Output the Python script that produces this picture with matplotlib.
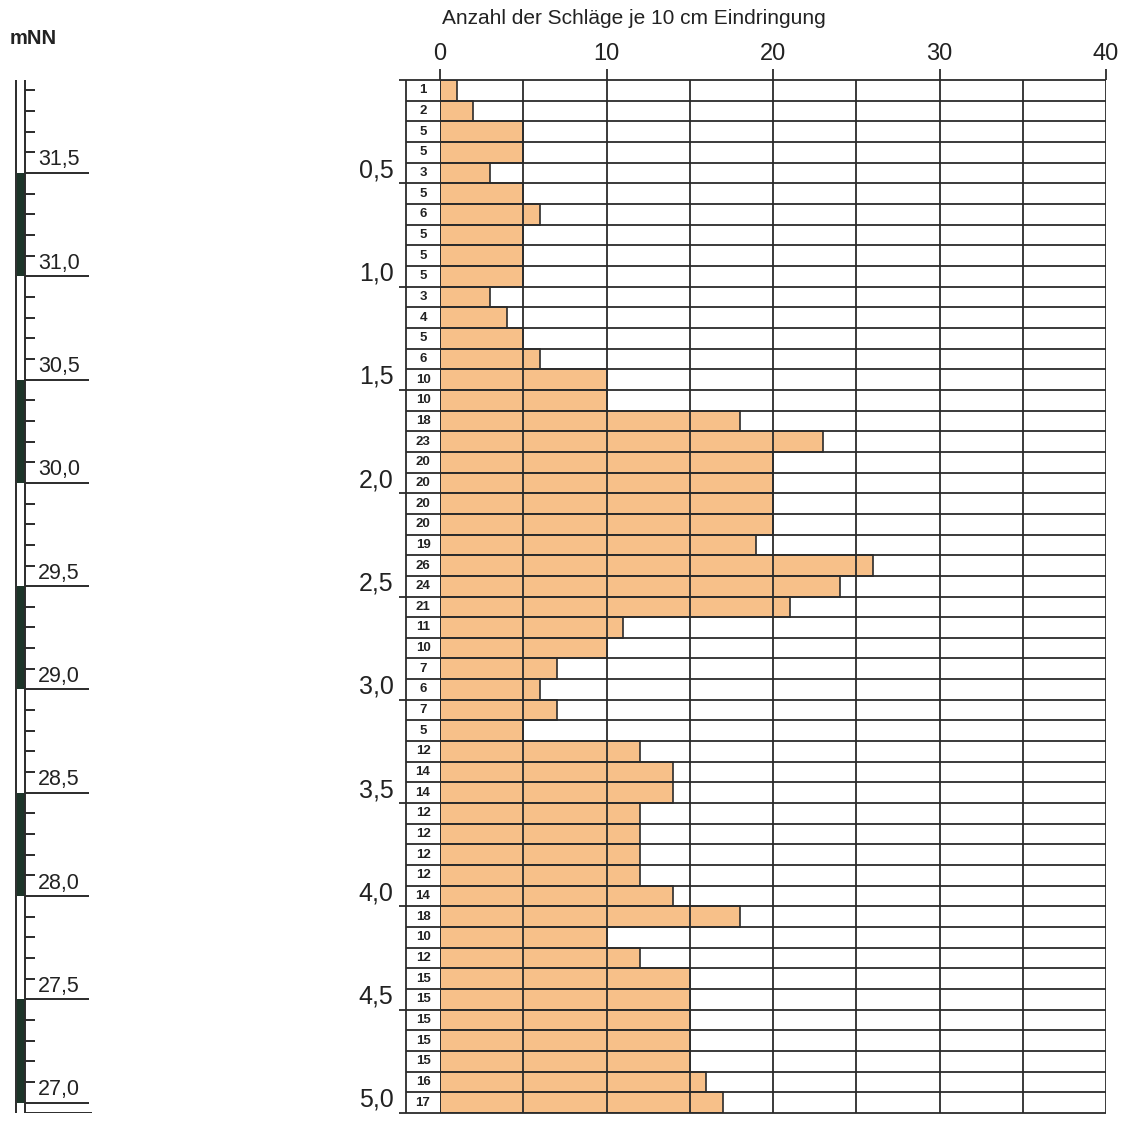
import numpy as np
import matplotlib
matplotlib.use("Agg")
import matplotlib.pyplot as plt

plt.rcParams['font.family'] = ['Liberation Sans', 'DejaVu Sans']

# Schlagzahlen N10 je 10 cm Eindringung, von oben nach unten
blows = [1, 2, 5, 5, 3, 5, 6, 5, 5, 5,
         3, 4, 5, 6, 10, 10, 18, 23, 20, 20,
         20, 20, 19, 26, 24, 21, 11, 10, 7, 6,
         7, 5, 12, 14, 14, 12, 12, 12, 12, 14,
         18, 10, 12, 15, 15, 15, 15, 15, 16, 17]
step = 0.1
depth_top = np.arange(len(blows)) * step
depth_labels = [0.5, 1.0, 1.5, 2.0, 2.5, 3.0, 3.5, 4.0, 4.5, 5.0]
x_ticks = [0, 10, 20, 30, 40]

ground = 31.95          # Ansatzhoehe mNN
elev_labels = [31.5, 31.0, 30.5, 30.0, 29.5, 29.0, 28.5, 28.0, 27.5, 27.0]

bar_color = '#f7c089'
line_color = '#2b2b2b'

W, H = 1128, 1124
fig = plt.figure(figsize=(W / 100, H / 100), dpi=100)

top_px, bot_px = 80, 1113
ax = fig.add_axes([440 / W, 1 - bot_px / H, (1106 - 440) / W, (bot_px - top_px) / H])
ax.set_xlim(0, 40)
ax.set_ylim(5.0, 0.0)
for s in ax.spines.values():
    s.set_visible(False)

ax.barh(depth_top, blows, height=step, align='edge', color=bar_color,
        edgecolor=line_color, linewidth=1.2, zorder=2)

# Raster
box_left = -2.04
major_left = -2.45
rows = np.round(np.arange(0, 5.0001, step), 2)
for d in rows:
    is_major = abs(d * 2 - round(d * 2)) < 1e-6
    ax.hlines(d, major_left if is_major else box_left, 40, color=line_color,
              lw=1.3, clip_on=False, zorder=3)
ax.vlines(np.arange(0, 41, 5), 0, 5, color=line_color, lw=1.3, zorder=3)
ax.vlines(box_left, 0, 5, color=line_color, lw=1.3, clip_on=False, zorder=3)

# Schlagzahlen in der Randspalte
for d, n in zip(depth_top, blows):
    ax.text(box_left / 2, d + step / 2, str(n), ha='center', va='center',
            fontsize=9.5, fontweight='bold', color='#222', clip_on=False)

# Tiefenangaben
for d in depth_labels:
    ax.text(-2.8, d - 0.063, f"{d:.1f}".replace('.', ','), ha='right', va='center',
            fontsize=18, color='#222', clip_on=False)

ax.xaxis.tick_top()
ax.set_xticks(x_ticks)
ax.set_xticklabels([str(t) for t in x_ticks])
ax.tick_params(axis='x', length=8, width=1.3, color=line_color, labelsize=17,
               labelcolor='#222', pad=3)
ax.set_yticks([])

fig.text(634 / W, 1 - 19 / H, 'Anzahl der Schläge je 10 cm Eindringung',
         ha='center', va='center', fontsize=15, color='#222')
fig.text(10 / W, 1 - 38 / H, 'mNN', ha='left', va='center', fontsize=14.5,
         fontweight='bold', color='#222')

# Hoehenmassstab links
ax2 = fig.add_axes([0, 1 - bot_px / H, 100 / W, (bot_px - top_px) / H])
ax2.set_xlim(0, 100)
ax2.set_ylim(ground - 5.0, ground)
ax2.axis('off')

x0, x1 = 17, 25
for lo in [31.0, 30.0, 29.0, 28.0, 27.0]:
    ax2.fill_between([x0, x1], lo, lo + 0.5, color='#1d3529', lw=0)
ax2.vlines([x0 - 1.5, x1], ground - 5.0, ground, color=line_color, lw=1.4)

elev_steps = np.round(np.arange(27.0, ground, 0.1), 1)
for e in elev_steps:
    if abs(e * 2 - round(e * 2)) < 1e-6:
        ax2.hlines(e, x1, 89, color=line_color, lw=1.4)
    else:
        ax2.hlines(e, x1, 35, color=line_color, lw=1.4)
ax2.hlines(ground - 5.0, x1, 92, color=line_color, lw=1.4)

for e in elev_labels:
    ax2.text(38, e + 0.012, f"{e:.1f}".replace('.', ','), ha='left', va='bottom',
             fontsize=15.5, color='#222')

fig.savefig('out.png', dpi=100, facecolor='white')
